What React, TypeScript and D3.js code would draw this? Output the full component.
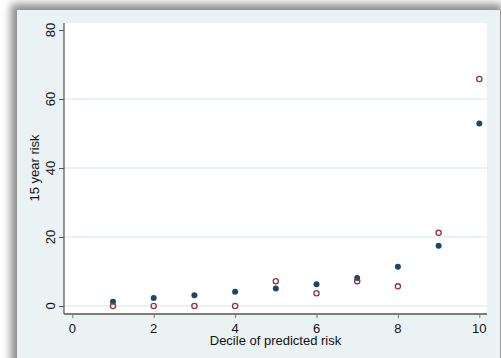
import React, { useEffect, useRef } from 'react';
import * as d3 from 'd3';

// deciles of predicted risk
const deciles = [1, 2, 3, 4, 5, 6, 7, 8, 9, 10];
// filled navy markers
const predicted = [1.2, 2.3, 3.1, 4.1, 5.1, 6.3, 8.1, 11.4, 17.5, 52.9];
// hollow maroon markers
const observed = [0, 0, 0, 0, 7.2, 3.7, 7.2, 5.7, 21.2, 65.8];

const xTicks = [0, 2, 4, 6, 8, 10];
const yTicks = [0, 20, 40, 60, 80];
const gridTicks = [0, 20, 40, 60];

const App = () => {
  const svgRef = useRef(null);

  useEffect(() => {
    const svg = d3.select(svgRef.current);
    const width = 501;
    const height = 358;
    svg.selectAll('*').remove();
    svg.attr('width', width).attr('height', height);

    const font = 'Arial, "Liberation Sans", sans-serif';

    // frame with shadow
    const defs = svg.append('defs');
    defs
      .append('filter')
      .attr('id', 'shadow')
      .attr('x', '-10%')
      .attr('y', '-10%')
      .attr('width', '120%')
      .attr('height', '120%')
      .append('feGaussianBlur')
      .attr('stdDeviation', 4);

    svg.append('rect').attr('width', width).attr('height', height).attr('fill', '#fff');
    svg
      .append('rect')
      .attr('x', 11)
      .attr('y', 4)
      .attr('width', 492)
      .attr('height', 380)
      .attr('fill', '#8a8a8a')
      .attr('filter', 'url(#shadow)');
    svg
      .append('rect')
      .attr('x', 17)
      .attr('y', 10)
      .attr('width', 483)
      .attr('height', 360)
      .attr('fill', '#eaf2f3');
    svg
      .append('line')
      .attr('x1', 500.5)
      .attr('x2', 500.5)
      .attr('y1', 10)
      .attr('y2', height)
      .attr('stroke', '#999');

    // plot region
    const left = 64;
    const right = 487;
    const top = 23;
    const bottom = 314;

    svg
      .append('rect')
      .attr('x', left)
      .attr('y', top)
      .attr('width', right - left)
      .attr('height', bottom - top)
      .attr('fill', '#fff');

    const xScale = d3.scaleLinear().domain([0, 10]).range([72.3, 479.3]);
    const yScale = d3.scaleLinear().domain([0, 80]).range([306, 30]);

    // grid lines
    svg
      .append('g')
      .selectAll('line')
      .data(gridTicks)
      .join('line')
      .attr('x1', left)
      .attr('x2', right)
      .attr('y1', (d) => yScale(d))
      .attr('y2', (d) => yScale(d))
      .attr('stroke', '#e4eef0')
      .attr('stroke-width', 1.5);

    // y axis
    const yAxis = d3
      .axisLeft(yScale)
      .tickValues(yTicks)
      .tickSize(5)
      .tickFormat((d) => '');
    const gy = svg.append('g').attr('transform', `translate(${left}, 0)`).call(yAxis);
    gy.select('.domain').attr('d', `M0,${top}V${bottom}`).attr('stroke', '#333');
    gy.selectAll('.tick line').attr('stroke', '#555');

    svg
      .append('g')
      .selectAll('text')
      .data(yTicks)
      .join('text')
      .attr('transform', (d) => `translate(55, ${yScale(d)}) rotate(-90)`)
      .attr('text-anchor', 'middle')
      .attr('font-family', font)
      .attr('font-size', 13)
      .attr('fill', '#111')
      .text((d) => d);

    // x axis
    const xAxis = d3
      .axisBottom(xScale)
      .tickValues(xTicks)
      .tickSize(4)
      .tickFormat((d) => '');
    const gx = svg.append('g').attr('transform', `translate(0, ${bottom})`).call(xAxis);
    gx.select('.domain').attr('d', `M${left},0H${right}`).attr('stroke', '#555').attr('stroke-width', 1.6);
    gx.selectAll('.tick line').attr('stroke', '#777');

    svg
      .append('g')
      .selectAll('text')
      .data(xTicks)
      .join('text')
      .attr('x', (d) => xScale(d))
      .attr('y', 333)
      .attr('text-anchor', 'middle')
      .attr('font-family', font)
      .attr('font-size', 13)
      .attr('fill', '#111')
      .text((d) => d);

    // axis titles
    svg
      .append('text')
      .attr('x', (left + right) / 2)
      .attr('y', 344.5)
      .attr('text-anchor', 'middle')
      .attr('font-family', font)
      .attr('font-size', 13)
      .attr('fill', '#111')
      .text('Decile of predicted risk');

    svg
      .append('text')
      .attr('transform', `translate(39, ${yScale(40)}) rotate(-90)`)
      .attr('text-anchor', 'middle')
      .attr('font-family', font)
      .attr('font-size', 13)
      .attr('fill', '#111')
      .text('15 year risk');

    // markers
    svg
      .append('g')
      .selectAll('circle')
      .data(deciles)
      .join('circle')
      .attr('cx', (d) => xScale(d))
      .attr('cy', (d, i) => yScale(predicted[i]))
      .attr('r', 3)
      .attr('fill', '#1a476f');

    svg
      .append('g')
      .selectAll('circle')
      .data(deciles)
      .join('circle')
      .attr('cx', (d) => xScale(d))
      .attr('cy', (d, i) => yScale(observed[i]))
      .attr('r', 2.6)
      .attr('fill', 'none')
      .attr('stroke', '#90353b')
      .attr('stroke-width', 1.3);
  }, []);

  return (
    <div style={{ position: 'fixed', top: 0, left: 0 }}>
      <svg ref={svgRef} style={{ display: 'block' }} />
    </div>
  );
};

export default App;
